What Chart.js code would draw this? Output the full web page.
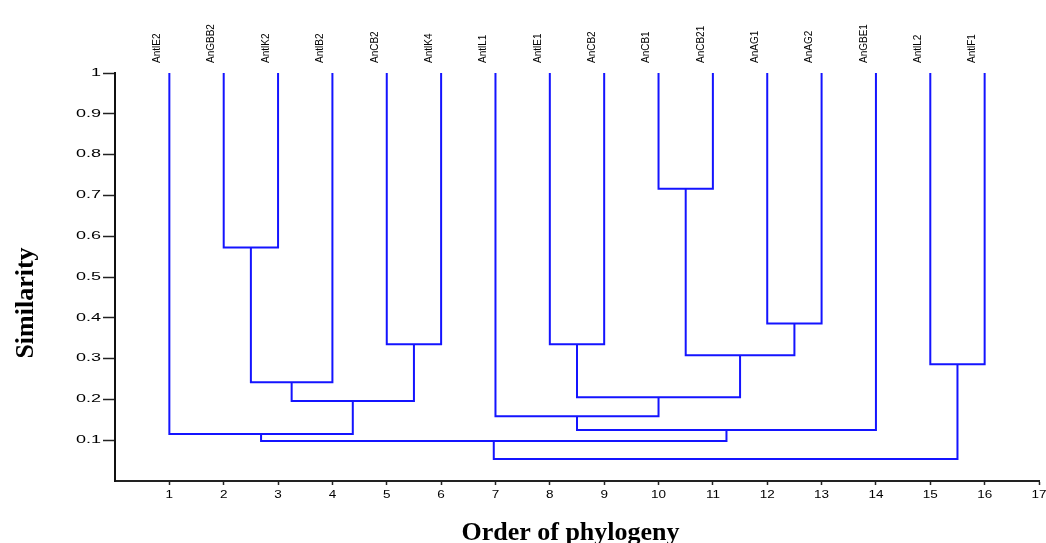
<!DOCTYPE html>
<html>
<head>
<meta charset="utf-8">
<script src="https://cdn.jsdelivr.net/npm/chart.js@4/dist/chart.umd.min.js"></script>
<style>
  html, body { margin: 0; padding: 0; background: #ffffff; }
  #c { display: block; }
</style>
</head>
<body>
<canvas id="c" width="1046" height="543"></canvas>
<script>
// ---- data ----
const leafLabels = ['AntlE2','AnGBB2','AntlK2','AntlB2','AnCB2','AntlK4','AntlL1','AntlE1',
                    'AnCB2','AnCB1','AnCB21','AnAG1','AnAG2','AnGBE1','AntlL2','AntlF1'];
const leafPositions = [1,2,3,4,5,6,7,8,9,10,11,12,13,14,15,16];
const leafHeight = 1;
// merge list: ids 1..16 are leaves, merge i creates id 17+i
const mergeLeft   = [2, 17, 5, 18, 1, 10, 12, 22, 8, 25, 7, 27, 21, 15, 29];
const mergeRight  = [3, 4, 6, 19, 20, 11, 13, 23, 9, 24, 26, 14, 28, 16, 30];
const mergeHeight = [0.572, 0.242, 0.335, 0.196, 0.115, 0.716, 0.386, 0.308,
                     0.335, 0.205, 0.159, 0.125, 0.098, 0.286, 0.054];
const xTitle = 'Order of phylogeny';
const yTitle = 'Similarity';

// ---- build dendrogram links from the merge table ----
const nodeX = {}, nodeH = {};
leafPositions.forEach((p, i) => { nodeX[i + 1] = p; nodeH[i + 1] = leafHeight; });
const datasets = [];
mergeHeight.forEach((h, i) => {
  const a = mergeLeft[i], b = mergeRight[i], id = 17 + i;
  datasets.push({
    data: [
      {x: nodeX[a], y: nodeH[a]}, {x: nodeX[a], y: h},
      {x: nodeX[b], y: h}, {x: nodeX[b], y: nodeH[b]}
    ],
    showLine: true, pointRadius: 0, borderColor: '#1414ff', borderWidth: 2,
    tension: 0, fill: false, borderCapStyle: 'butt', borderJoinStyle: 'miter'
  });
  nodeX[id] = (nodeX[a] + nodeX[b]) / 2;
  nodeH[id] = h;
});

// horizontally stretched tick labels (the reference uses wide, flat digits)
function stretchLabels(scale, k) {
  if (scale._stretched) return;
  scale._stretched = true;
  const orig = scale.drawLabels.bind(scale);
  scale.drawLabels = function (area) {
    const ctx = this.ctx;
    const f = CanvasRenderingContext2D.prototype.fillText;
    ctx.fillText = function (t, x, y) {
      this.save(); this.translate(x, y); this.scale(k, 1);
      f.call(this, t, 0, 0); this.restore();
    };
    try { orig(area); } finally { delete ctx.fillText; }
  };
}

const tickFont = {family: "'Liberation Sans', Arial, sans-serif", size: 10};
const titleFont = {family: "'Liberation Serif', 'Times New Roman', serif", size: 26, weight: 'bold', lineHeight: 1.2};

new Chart(document.getElementById('c'), {
  type: 'scatter',
  data: { datasets },
  options: {
    responsive: false,
    animation: false,
    devicePixelRatio: 1,
    layout: { padding: {left: 0, right: 7, top: 0, bottom: 0} },
    plugins: { legend: {display: false}, tooltip: {enabled: false} },
    scales: {
      x: {
        type: 'linear', position: 'bottom', min: 0, max: 17,
        ticks: {
          stepSize: 1, autoSkip: false, maxRotation: 0, color: '#000', font: tickFont, padding: 4,
          callback: v => v === 0 ? '' : String(v)
        },
        grid: {
          drawOnChartArea: false, drawTicks: true, tickLength: 4, tickWidth: 1.5,
          tickColor: c => (c.tick && c.tick.value === 0) ? 'rgba(0,0,0,0)' : '#222'
        },
        border: { display: true, color: '#222', width: 2 },
        title: { display: true, text: xTitle + '\u00a0\u00a0', color: '#000', font: {family: titleFont.family, size: 26, weight: 'bold', lineHeight: '20px'}, padding: {top: 0, bottom: 0} },
        afterFit: s => { s.height = 62; s.paddingLeft = 0; s.paddingRight = 0; stretchLabels(s, 1.35); }
      },
      x2: {
        type: 'linear', position: 'top', min: 0, max: 17,
        afterBuildTicks: s => { s.ticks = leafPositions.map(v => ({value: v})); },
        ticks: {
          autoSkip: false, minRotation: 90, maxRotation: 90, padding: 10, color: '#000',
          font: {family: "'Liberation Sans', Arial, sans-serif", size: 10},
          callback: (v) => { const i = leafPositions.indexOf(v); return i >= 0 ? leafLabels[i] : ''; }
        },
        grid: { display: false, drawTicks: false },
        border: { display: false },
        afterFit: s => { s.height = 73; s.paddingLeft = 0; s.paddingRight = 0; }
      },
      y: {
        type: 'linear', position: 'left', min: 0, max: 1,
        ticks: {
          stepSize: 0.1, color: '#000', font: tickFont, padding: 2,
          callback: v => { const r = Math.round(v * 10) / 10; return r === 0 ? '' : String(r); }
        },
        grid: {
          drawOnChartArea: false, drawTicks: true, tickLength: 12, tickWidth: 1.5,
          tickColor: c => (c.tick && Math.abs(c.tick.value) < 1e-9) ? 'rgba(0,0,0,0)' : '#222'
        },
        border: { display: true, color: '#111', width: 2 },
        title: { display: true, text: yTitle + '\u00a0'.repeat(8), color: '#000', font: titleFont, padding: {top: 11, bottom: 0} },
        afterFit: s => { s.width = 115; s.paddingTop = 0; s.paddingBottom = 0; stretchLabels(s, 1.8); }
      }
    }
  }
});
</script>
</body>
</html>
